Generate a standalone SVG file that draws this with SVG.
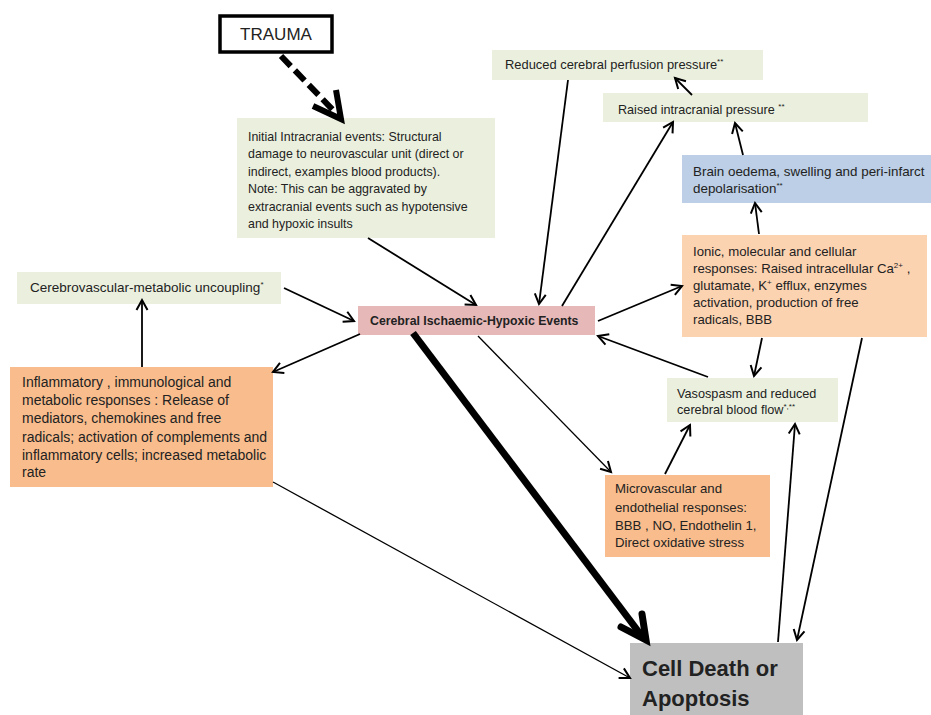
<svg xmlns="http://www.w3.org/2000/svg" width="931" height="715" viewBox="0 0 931 715">
<defs>
<style>
.t{font-family:"Liberation Sans",Arial,sans-serif;fill:#222}
.green{fill:#ebf0de}
.blue{fill:#bccfe6}
.pink{fill:#e6b9b8}
.or1{fill:#fcd3b1}
.or2{fill:#f9bd8d}
.grey{fill:#bfbfbf}
.c{stroke:#000;stroke-width:1.8;fill:none;marker-end:url(#ah)}
.thin{stroke-width:1.3}
</style>
<marker id="ah" markerUnits="userSpaceOnUse" markerWidth="16" markerHeight="16" refX="12" refY="7" orient="auto">
<path d="M2,1.5 L12,7 L2,12.5" fill="none" stroke="#000" stroke-width="2"/>
</marker>
</defs>
<rect width="931" height="715" fill="#fff"/>

<g id="trauma">
<rect x="220" y="16" width="112" height="36" fill="#fff" stroke="#000" stroke-width="3.5"/>
<text class="t" x="276" y="40" font-size="17" text-anchor="middle">TRAUMA</text>
</g>

<g id="initial">
<rect class="green" x="237" y="118" width="258" height="120"/>
<text class="t" font-size="12.4">
<tspan x="248" y="141">Initial Intracranial events: Structural</tspan>
<tspan x="248" y="158.4">damage to neurovascular unit (direct or</tspan>
<tspan x="248" y="175.8">indirect, examples blood products).</tspan>
<tspan x="248" y="193.2">Note: This can be aggravated by</tspan>
<tspan x="248" y="210.6">extracranial events such as hypotensive</tspan>
<tspan x="248" y="228">and hypoxic insults</tspan>
</text>
</g>

<g id="reduced-cpp">
<rect class="green" x="492" y="50" width="271" height="30"/>
<text class="t" x="505" y="69" font-size="12.9">Reduced cerebral perfusion pressure<tspan font-size="8" dy="-5">**</tspan></text>
</g>

<g id="raised-icp">
<rect class="green" x="603" y="93" width="265" height="29"/>
<text class="t" x="618" y="114" font-size="12.6">Raised intracranial pressure <tspan font-size="8" dy="-5">**</tspan></text>
</g>

<g id="oedema">
<rect class="blue" x="682" y="155" width="249" height="48"/>
<text class="t" font-size="13.4">
<tspan x="693" y="176">Brain oedema, swelling and peri-infarct</tspan>
<tspan x="693" y="193">depolarisation<tspan font-size="8" dy="-5">**</tspan></tspan>
</text>
</g>

<g id="ionic">
<rect class="or1" x="682" y="235" width="245" height="102"/>
<text class="t" font-size="13.2">
<tspan x="693" y="256">Ionic, molecular and cellular</tspan>
<tspan x="693" y="273">responses: Raised intracellular  Ca<tspan font-size="8" dy="-5">2+</tspan><tspan dy="5"> ,</tspan></tspan>
<tspan x="693" y="290">glutamate, K<tspan font-size="8" dy="-5">+</tspan><tspan dy="5">  efflux, enzymes</tspan></tspan>
<tspan x="693" y="307">activation, production of free</tspan>
<tspan x="693" y="324">radicals, BBB</tspan>
</text>
</g>

<g id="uncoupling">
<rect class="green" x="17" y="272" width="264" height="32"/>
<text class="t" x="30" y="292" font-size="13.5">Cerebrovascular-metabolic uncoupling<tspan font-size="8" dy="-5">*</tspan></text>
</g>

<g id="cerebral">
<rect class="pink" x="358" y="306" width="237" height="29"/>
<text class="t" x="370" y="325" font-size="12.3" font-weight="bold">Cerebral Ischaemic-Hypoxic Events</text>
</g>

<g id="inflammatory">
<rect class="or2" x="10" y="367" width="263" height="120"/>
<text class="t" font-size="14">
<tspan x="22" y="387">Inflammatory , immunological and</tspan>
<tspan x="22" y="405">metabolic responses : Release of</tspan>
<tspan x="22" y="423">mediators, chemokines and free</tspan>
<tspan x="22" y="442">radicals; activation of complements and</tspan>
<tspan x="22" y="460">inflammatory cells; increased metabolic</tspan>
<tspan x="22" y="477">rate</tspan>
</text>
</g>

<g id="vasospasm">
<rect class="green" x="667" y="378" width="171" height="44"/>
<text class="t" font-size="12.7">
<tspan x="677" y="398">Vasospasm and reduced</tspan>
<tspan x="677" y="414">cerebral blood flow<tspan font-size="8" dy="-5">*,**</tspan></tspan>
</text>
</g>

<g id="microvascular">
<rect class="or2" x="605" y="475" width="165" height="82"/>
<text class="t" font-size="13.2">
<tspan x="615" y="493">Microvascular and</tspan>
<tspan x="615" y="512">endothelial responses:</tspan>
<tspan x="615" y="530">BBB , NO, Endothelin 1,</tspan>
<tspan x="615" y="547">Direct oxidative stress</tspan>
</text>
</g>

<g id="cell-death">
<rect class="grey" x="630" y="643" width="173" height="72"/>
<text class="t" font-size="22" font-weight="bold">
<tspan x="642" y="676">Cell Death or</tspan>
<tspan x="642" y="706">Apoptosis</tspan>
</text>
</g>

<g id="connectors">
<line x1="281" y1="56" x2="333" y2="110" stroke="#000" stroke-width="6" stroke-dasharray="14,6"/>
<polyline points="313,106 341,119 336,90" fill="none" stroke="#000" stroke-width="6"/>
<line class="c" x1="368" y1="238" x2="476" y2="305"/>
<line class="c" x1="284" y1="288" x2="354" y2="321"/>
<line class="c" x1="568" y1="80" x2="539" y2="304"/>
<line class="c" x1="562" y1="306" x2="673" y2="122"/>
<line class="c" x1="692" y1="95" x2="675" y2="78"/>
<line class="c" x1="743" y1="155" x2="735" y2="123"/>
<line class="c" x1="759" y1="234" x2="755" y2="203"/>
<line class="c" x1="598" y1="321" x2="682" y2="286"/>
<line class="c" x1="708" y1="377" x2="598" y2="336"/>
<line class="c" x1="762" y1="338" x2="754" y2="376"/>
<line class="c" x1="665" y1="474" x2="690" y2="425"/>
<line class="c thin" x1="478" y1="336" x2="611" y2="472"/>
<line x1="413" y1="333" x2="641" y2="635" stroke="#000" stroke-width="7"/>
<polyline points="621,627 646,640 642,614" fill="none" stroke="#000" stroke-width="7" stroke-linecap="round"/>
<line class="c" x1="360" y1="334" x2="273" y2="372"/>
<line class="c thin" x1="273" y1="482" x2="630" y2="678"/>
<line class="c" x1="142" y1="367" x2="142" y2="300"/>
<line class="c" x1="778" y1="642" x2="795" y2="424"/>
<line class="c" x1="862" y1="338" x2="797" y2="640"/>
</g>
</svg>
